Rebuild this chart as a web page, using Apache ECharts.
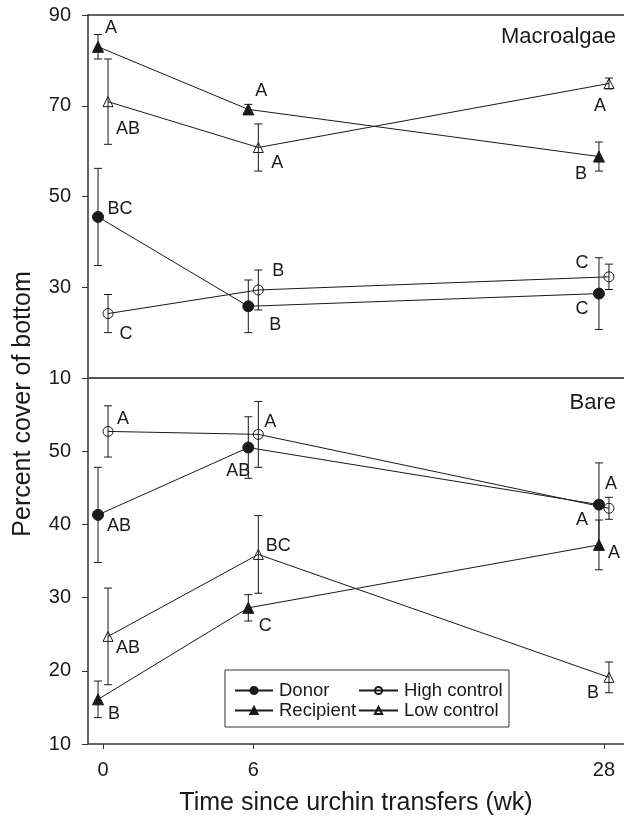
<!DOCTYPE html>
<html><head><meta charset="utf-8">
<script src="https://cdn.jsdelivr.net/npm/echarts@6/dist/echarts.min.js"></script>
<style>html,body{margin:0;padding:0;background:#fff}#c{width:624px;height:818px}</style>
</head><body><div id="c"></div>
<script>
// ---- data ----
const weekLabels = ['0', '6', '28'];
const axisPos = [0, 6, 20];          // compressed time-axis positions of the 3 sampling weeks
const seriesNames = ['Donor', 'Recipient', 'High control', 'Low control'];

// Macroalgae (% cover), mean and error
const macDonor = [45.5, 25.8, 28.6];
const macDonorErr = [10.7, 5.8, 7.9];
const macRecipient = [83.0, 69.2, 58.8];
const macRecipientErr = [2.7, 1.1, 3.2];
const macHigh = [24.2, 29.4, 32.3];
const macHighErr = [4.2, 4.4, 2.8];
const macLow = [70.9, 60.8, 74.9];
const macLowErr = [9.4, 5.2, 1.2];
const macDonorLet = ['BC', 'B', 'C'];
const macRecipientLet = ['A', 'A', 'B'];
const macHighLet = ['C', 'B', 'C'];
const macLowLet = ['AB', 'A', 'A'];

// Bare (% cover)
const bareDonor = [41.3, 50.5, 42.7];
const bareDonorErr = [6.5, 4.2, 5.7];
const bareRecipient = [16.1, 28.6, 37.2];
const bareRecipientErr = [2.5, 1.8, 3.4];
const bareHigh = [52.7, 52.3, 42.2];
const bareHighErr = [3.5, 4.5, 1.5];
const bareLow = [24.7, 35.9, 19.1];
const bareLowErr = [6.6, 5.3, 2.1];
const bareDonorLet = ['AB', 'AB', 'A'];
const bareRecipientLet = ['B', 'C', 'A'];
const bareHighLet = ['A', 'A', 'A'];
const bareLowLet = ['AB', 'BC', 'B'];

// ---- styling / layout ----
const FONT = '"Liberation Sans", Arial, Helvetica, sans-serif';
const INK = '#1a1a1a';
const dodge = { 'Donor': -0.2, 'Recipient': -0.2, 'High control': 0.2, 'Low control': 0.2 };
const symbolOf = {
  'Donor': { symbol: 'circle', size: 11, fill: INK },
  'Recipient': { symbol: 'triangle', size: 11, fill: INK },
  'High control': { symbol: 'circle', size: 10, fill: 'rgba(0,0,0,0)' },
  'Low control': { symbol: 'triangle', size: 10, fill: 'rgba(0,0,0,0)' }
};
const macOffsets = {
  'Donor': [[22, -8], [27, 19], [-17, 15]],
  'Recipient': [[13, -19], [13, -18], [-18, 17]],
  'High control': [[18, 20], [20, -19], [-27, -14]],
  'Low control': [[20, 27], [19, 16], [-9, 23]]
};
const bareOffsets = {
  'Donor': [[21, 11], [-10, 23], [-17, 15]],
  'Recipient': [[16, 15], [17, 18], [15, 8]],
  'High control': [[15, -12], [12, -12], [2, -24]],
  'Low control': [[20, 12], [20, -8], [-16, 16]]
};

const panels = [
  { vals: [macDonor, macRecipient, macHigh, macLow],
    errs: [macDonorErr, macRecipientErr, macHighErr, macLowErr],
    lets: [macDonorLet, macRecipientLet, macHighLet, macLowLet],
    offs: macOffsets, xIdx: 0, yIdx: 0 },
  { vals: [bareDonor, bareRecipient, bareHigh, bareLow],
    errs: [bareDonorErr, bareRecipientErr, bareHighErr, bareLowErr],
    lets: [bareDonorLet, bareRecipientLet, bareHighLet, bareLowLet],
    offs: bareOffsets, xIdx: 2, yIdx: 1 }
];

function renderErr(params, api) {
  const x = api.value(0), y = api.value(1), e = api.value(2);
  const t = api.coord([x, y + e]), b = api.coord([x, y - e]);
  const hw = 4;
  const st = { stroke: INK, lineWidth: 1 };
  return { type: 'group', children: [
    { type: 'line', shape: { x1: t[0], y1: t[1], x2: b[0], y2: b[1] }, style: st },
    { type: 'line', shape: { x1: t[0] - hw, y1: t[1], x2: t[0] + hw, y2: t[1] }, style: st },
    { type: 'line', shape: { x1: b[0] - hw, y1: b[1], x2: b[0] + hw, y2: b[1] }, style: st }
  ]};
}

const series = [];
panels.forEach(p => {
  seriesNames.forEach((name, si) => {
    const sym = symbolOf[name];
    const errData = p.vals[si].map((v, i) => [axisPos[i] + dodge[name], v, p.errs[si][i]]);
    series.push({
      type: 'custom', name: name + ' err', xAxisIndex: p.xIdx, yAxisIndex: p.yIdx,
      renderItem: renderErr, data: errData, encode: { x: 0, y: 1 }, z: 1, silent: true, clip: false
    });
    series.push({
      type: 'line', name: name, xAxisIndex: p.xIdx, yAxisIndex: p.yIdx,
      symbol: sym.symbol, symbolSize: sym.size, showAllSymbol: true, z: 3,
      itemStyle: { color: sym.fill, borderColor: INK, borderWidth: 1 },
      lineStyle: { color: INK, width: 1 },
      emphasis: { disabled: true },
      animation: false,
      data: p.vals[si].map((v, i) => ({
        value: [axisPos[i] + dodge[name], v],
        label: { show: true, formatter: p.lets[si][i], position: 'inside',
                 offset: p.offs[name][i], color: INK, fontSize: 18, fontFamily: FONT }
      }))
    });
  });
});

const xBase = { type: 'value', min: -0.6, max: 20.8, splitLine: { show: false } };
const yLabel = { color: INK, fontSize: 20, fontFamily: FONT, margin: 17 };

const legendText = { color: INK, fontSize: 18.5, fontFamily: FONT, lineHeight: 19, padding: [0, 0, 0, 1] };

const option = {
  animation: false,
  backgroundColor: '#fff',
  grid: [
    { left: 88, right: 0, top: 15, height: 363 },
    { left: 88, right: 0, top: 378, height: 366 }
  ],
  xAxis: [
    Object.assign({}, xBase, { gridIndex: 0, position: 'bottom',
      axisLine: { show: true, onZero: false, lineStyle: { color: '#555', width: 2 } },
      axisTick: { show: false }, axisLabel: { show: false } }),
    Object.assign({}, xBase, { gridIndex: 0, position: 'top',
      axisLine: { show: true, onZero: false, lineStyle: { color: '#333', width: 1.5 } },
      axisTick: { show: false }, axisLabel: { show: false } }),
    Object.assign({}, xBase, { gridIndex: 1, position: 'bottom',
      axisLine: { show: true, onZero: false, lineStyle: { color: '#333', width: 1.5 } },
      axisTick: { show: true, length: 5, customValues: axisPos, lineStyle: { color: '#333' } },
      axisLabel: { show: true, customValues: axisPos, color: INK, fontSize: 20, fontFamily: FONT, margin: 16,
        formatter: v => weekLabels[axisPos.indexOf(v)] },
      name: 'Time since urchin transfers (wk)', nameLocation: 'middle', nameGap: 47,
      nameTextStyle: { color: INK, fontSize: 25, fontFamily: FONT } })
  ],
  yAxis: [
    { type: 'value', gridIndex: 0, min: 10, max: 90, interval: 20,
      axisLine: { show: true, onZero: false, lineStyle: { color: '#333', width: 1.5 } },
      axisTick: { show: true, length: 6, lineStyle: { color: '#333' } },
      axisLabel: yLabel, splitLine: { show: false } },
    { type: 'value', gridIndex: 1, min: 10, max: 60, interval: 10,
      axisLine: { show: true, onZero: false, lineStyle: { color: '#333', width: 1.5 } },
      axisTick: { show: true, length: 6, lineStyle: { color: '#333' } },
      axisLabel: Object.assign({}, yLabel, { formatter: v => (v >= 60 ? '' : String(v)) }),
      splitLine: { show: false } }
  ],
  legend: [
    { data: ['Donor', 'Recipient'], orient: 'vertical', left: 234, top: 681, padding: 0,
      itemWidth: 38, itemHeight: 9, itemGap: 1, selectedMode: false, textStyle: legendText },
    { data: ['High control', 'Low control'], orient: 'vertical', left: 358, top: 681, padding: 0,
      itemWidth: 39, itemHeight: 9, itemGap: 1, selectedMode: false, textStyle: legendText }
  ],
  graphic: [
    { type: 'rect', shape: { x: 225, y: 670, width: 284, height: 57 },
      style: { fill: '#fff', stroke: '#333', lineWidth: 1 }, z: 2 },
    { type: 'text', x: 23, y: 404, rotation: Math.PI / 2,
      style: { text: 'Percent cover of bottom', font: '25px ' + FONT, fill: INK,
               textAlign: 'center', textVerticalAlign: 'middle' } },
    { type: 'text', x: 616, y: 37,
      style: { text: 'Macroalgae', font: '22px ' + FONT, fill: INK, textAlign: 'right', textVerticalAlign: 'middle' } },
    { type: 'text', x: 616, y: 403,
      style: { text: 'Bare', font: '22px ' + FONT, fill: INK, textAlign: 'right', textVerticalAlign: 'middle' } }
  ],
  series: series
};

const chart = echarts.init(document.getElementById('c'), null, { renderer: 'canvas' });
chart.setOption(option);
</script>
</body></html>
